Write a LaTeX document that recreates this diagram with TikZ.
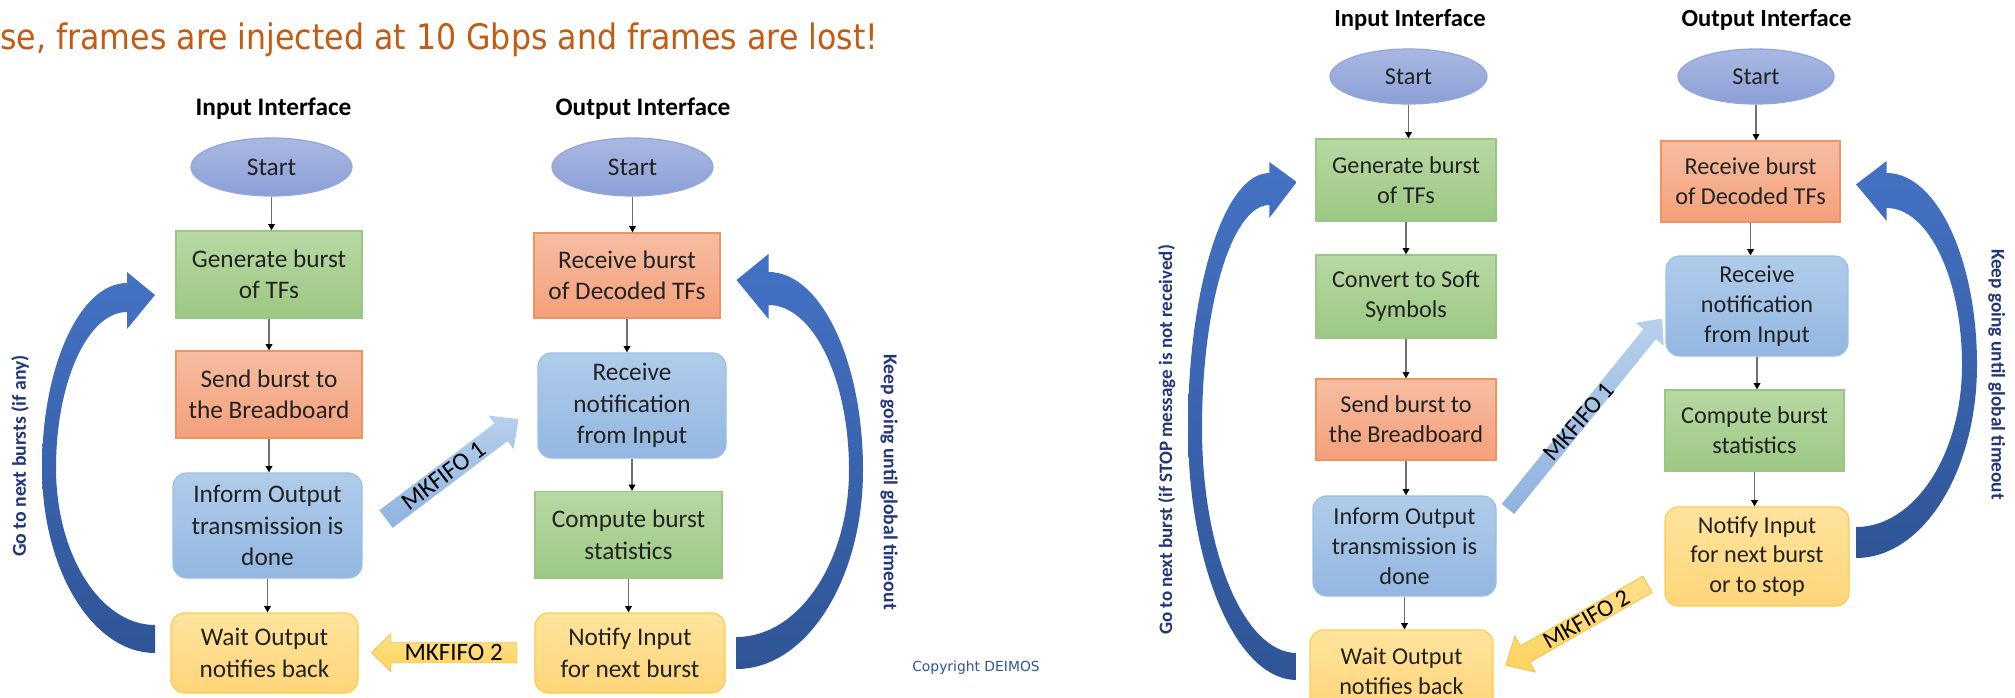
\documentclass[tikz,border=0pt]{standalone}
\usepackage{fontspec}
\setmainfont{Carlito}
\newfontfamily\titlefont[FakeStretch=0.9]{DejaVu Sans}
\newfontfamily\smallfont{DejaVu Sans}
\usetikzlibrary{arrows.meta,shapes.geometric}

\definecolor{titlecol}{HTML}{C55A11}
\definecolor{txt}{HTML}{222222}
\definecolor{navy}{HTML}{23367A}
\definecolor{copycol}{HTML}{2F5597}
\definecolor{loopTop}{HTML}{4472C4}
\definecolor{loopBot}{HTML}{2F5597}
\definecolor{grnTop}{HTML}{B7D8A3}
\definecolor{grnBot}{HTML}{9DC883}
\definecolor{grnLine}{HTML}{9CC685}
\definecolor{orgTop}{HTML}{F6BDA2}
\definecolor{orgBot}{HTML}{F4A07B}
\definecolor{orgLine}{HTML}{F1935F}
\definecolor{bluTop}{HTML}{B0CCEA}
\definecolor{bluBot}{HTML}{93B7E1}
\definecolor{bluLine}{HTML}{9DBFE6}
\definecolor{ylwTop}{HTML}{FFE49E}
\definecolor{ylwBot}{HTML}{FFD579}
\definecolor{ylwLine}{HTML}{FFCB4A}
\definecolor{ellTop}{HTML}{AAB8E2}
\definecolor{ellBot}{HTML}{8B9FD7}
\definecolor{ellLine}{HTML}{94A6DA}
\definecolor{fifoBTop}{HTML}{B7D0EC}
\definecolor{fifoBBot}{HTML}{8FB3E0}
\definecolor{fifoYTop}{HTML}{FFE08A}
\definecolor{fifoYBot}{HTML}{FFD45E}
\definecolor{fifoYLine}{HTML}{F3C242}
\definecolor{connCol}{HTML}{707070}

% block arrow: name, tail x, tail y, angle, length, shaft width, head width, head length, style
\newcommand\fifoarrow[9]{%
  \begin{scope}[shift={(#2,#3)},rotate=#4]
    \path[#9] (0,{-#6/2}) -- ({#5-#8},{-#6/2}) -- ({#5-#8},{-#7/2}) -- (#5,0)
      -- ({#5-#8},{#7/2}) -- ({#5-#8},{#6/2}) -- (0,{#6/2}) -- cycle;
    \coordinate (#1) at ({(#5-#8)/2},0);
  \end{scope}}

\tikzset{
  every node/.style={inner sep=0pt, text=txt, align=center},
  wh/.style 2 args={minimum width=#1*0.02cm, minimum height=#2*0.02cm},
  lfont/.style={font=\fontsize{14.4}{17.9}\selectfont},
  rfont/.style={font=\fontsize{13.8}{17}\selectfont},
  head/.style={font=\bfseries\fontsize{14.4}{17}\selectfont, text=black},
  startnode/.style={ellipse, top color=ellTop, bottom color=ellBot, draw=ellLine, line width=0.7pt},
  greenbox/.style={rectangle, top color=grnTop, bottom color=grnBot, draw=grnLine, line width=0.7pt},
  orangebox/.style={rectangle, top color=orgTop, bottom color=orgBot, draw=orgLine, line width=0.7pt},
  bluebox/.style={rectangle, rounded corners=0.27cm, top color=bluTop, bottom color=bluBot, draw=bluLine, line width=0.7pt},
  yellowbox/.style={rectangle, rounded corners=0.27cm, top color=ylwTop, bottom color=ylwBot, draw=ylwLine, line width=0.7pt},
  conn/.style={draw=connCol, line width=0.7pt, -{Triangle[length=3.6pt,width=3.8pt,color=black]}},
  loop/.style={top color=loopTop, bottom color=loopBot},
  fifoblue/.style={top color=fifoBTop, bottom color=fifoBBot},
  fifoyellow/.style={top color=fifoYTop, bottom color=fifoYBot, draw=fifoYLine, line width=0.5pt},
  fifolabel/.style={font=\fontsize{14.2}{16}\selectfont, text=black},
  sidelabel/.style={font=\bfseries\fontsize{11.2}{13}\selectfont, text=navy},
}

\begin{document}
\begin{tikzpicture}[x=0.02cm, y=-0.02cm]
\useasboundingbox (0,0) rectangle (2015,697);
\fill[white] (0,0) rectangle (2015,697);
\clip (0,0) rectangle (2015,697);

% heading line
\node[anchor=base west, font=\titlefont\fontsize{20}{24}\selectfont, text=titlecol] (title) at (0,49)
  {se, frames are injected at 10 Gbps and frames are lost!};

% ---------------- first flow: input side ----------------
\node[head] (lInHead) at (273.5,109) {Input Interface};
\node[startnode, wh={161}{58}, lfont] (lStartIn) at (271.5,167) {Start};
\node[greenbox, wh={186}{87}, lfont] (lGen) at (269,274.5) {Generate burst\\of TFs};
\node[orangebox, wh={186}{87}, lfont] (lSend) at (269,394.5) {Send burst to\\the Breadboard};
\node[bluebox, wh={189}{105}, lfont] (lInform) at (267.5,525.5) {Inform Output\\transmission is\\done};
\node[yellowbox, wh={187}{80}, lfont] (lWait) at (264.5,653) {Wait Output\\notifies back};

% ---------------- first flow: output side ----------------
\node[head] (lOutHead) at (643,109) {Output Interface};
\node[startnode, wh={161}{58}, lfont] (lStartOut) at (632.5,167) {Start};
\node[orangebox, wh={186}{85}, lfont] (lRecv) at (627,275.5) {Receive burst\\of Decoded TFs};
\node[bluebox, wh={188}{105}, lfont] (lNotif) at (632,405.5) {Receive\\notification\\from Input};
\node[greenbox, wh={187}{87}, lfont] (lComp) at (628.5,535) {Compute burst\\statistics};
\node[yellowbox, wh={190}{80}, lfont] (lNotify) at (630,653) {Notify Input\\for next burst};

\foreach \a/\b in {lStartIn/lGen, lGen/lSend, lSend/lInform, lInform/lWait,
                   lStartOut/lRecv, lRecv/lNotif, lNotif/lComp, lComp/lNotify}
  \draw[conn] (\a.south) -- (\a.south |- \b.north);

% loop-back arrows
\shade[loop] (155,653) .. controls (92.6,653) and (42,570.2) .. (42,468)
  .. controls (42,365.8) and (80.1,283) .. (127,283)
  -- (127,272) -- (155,295) -- (127,329) -- (127,312)
  .. controls (87.8,312) and (56,381.8) .. (56,468)
  .. controls (56,554.7) and (100.3,625) .. (155,625) -- cycle;
\shade[loop] (736.5,669) .. controls (806.4,669) and (863,579.9) .. (863,470)
  .. controls (863,360.6) and (820.7,272) .. (768.5,272)
  -- (768.5,254) -- (736.5,280) -- (768.5,319) -- (768.5,305)
  .. controls (813,305) and (849,378.9) .. (849,470)
  .. controls (849,562.2) and (798.6,637) .. (736.5,637) -- cycle;

\node[sidelabel, rotate=90] (lGoNext) at (20,456) {Go to next bursts (if any)};
\node[sidelabel, rotate=-90] (lKeep) at (889,482) {Keep going until global timeout};

% pipes between the two sides
\fifoarrow{lFifoA}{386}{519}{37}{166}{22}{42}{22}{fifoblue}
\node[fifolabel, rotate=37] (lFifoAText) at (lFifoA) {MKFIFO 1};
\fifoarrow{lFifoB}{516.7}{652.7}{180}{145}{20}{37.4}{19}{fifoyellow}
\node[fifolabel] (lFifoBText) at (lFifoB) {MKFIFO 2};

\node[font=\smallfont\fontsize{7.9}{9}\selectfont, text=copycol] (copy) at (976,668) {Copyright DEIMOS};

% ---------------- second flow: input side ----------------
\node[head, font=\bfseries\fontsize{14}{17}\selectfont] (rInHead) at (1410,20) {Input Interface};
\node[startnode, wh={157}{55}, rfont] (rStartIn) at (1408.5,76.5) {Start};
\node[greenbox, wh={180}{82}, rfont] (rGen) at (1406,180) {Generate burst\\of TFs};
\node[greenbox, wh={180}{83}, rfont] (rConv) at (1406,296.5) {Convert to Soft\\Symbols};
\node[orangebox, wh={180}{81}, rfont] (rSend) at (1406,419.5) {Send burst to\\the Breadboard};
\node[bluebox, wh={183}{100}, rfont] (rInform) at (1404.5,546) {Inform Output\\transmission is\\done};
\node[yellowbox, wh={183}{82}, rfont] (rWait) at (1401.5,671) {Wait Output\\notifies back};

% ---------------- second flow: output side ----------------
\node[head, font=\bfseries\fontsize{14}{17}\selectfont] (rOutHead) at (1766.5,20) {Output Interface};
\node[startnode, wh={156}{55}, rfont] (rStartOut) at (1756,76.5) {Start};
\node[orangebox, wh={179}{81}, rfont] (rRecv) at (1750.5,181.5) {Receive burst\\of Decoded TFs};
\node[bluebox, wh={182}{100}, rfont] (rNotif) at (1757,306) {Receive\\notification\\from Input};
\node[greenbox, wh={179}{81}, rfont] (rComp) at (1754.5,430.5) {Compute burst\\statistics};
\node[yellowbox, wh={184}{99}, rfont] (rNotify) at (1757,556.5) {Notify Input\\for next burst\\or to stop};

\foreach \a/\b in {rStartIn/rGen, rGen/rConv, rConv/rSend, rSend/rInform, rInform/rWait,
                   rStartOut/rRecv, rRecv/rNotif, rNotif/rComp, rComp/rNotify}
  \draw[conn] (\a.south) -- (\a.south |- \b.north);

\shade[loop] (1296.7,680) .. controls (1236.7,680) and (1188,567.2) .. (1188,428)
  .. controls (1188,287.2) and (1224.4,173) .. (1269.3,173)
  -- (1269.3,162) -- (1296.7,182) -- (1269.3,218) -- (1269.3,205)
  .. controls (1232.1,205) and (1202,304.8) .. (1202,428)
  .. controls (1202,552.3) and (1244.4,653) .. (1296.7,653) -- cycle;
\shade[loop] (1856,558) .. controls (1922.8,558) and (1977,471.6) .. (1977,365)
  .. controls (1977,259) and (1936.6,173) .. (1886.7,173)
  -- (1886.7,161) -- (1856,184.4) -- (1886.7,221) -- (1886.7,208)
  .. controls (1928.3,208) and (1962,278.3) .. (1962,365)
  .. controls (1962,454.5) and (1914.5,527) .. (1856,527) -- cycle;

\node[sidelabel, font=\bfseries\fontsize{10.8}{13}\selectfont, rotate=90] (rGoNext) at (1166.7,440)
  {Go to next burst (if STOP message is not received)};
\node[sidelabel, font=\bfseries\fontsize{11}{13}\selectfont, rotate=-90] (rKeep) at (1996.7,374.5)
  {Keep going until global timeout};

\fifoarrow{rFifoA}{1508}{509}{51}{245}{16}{36}{20}{fifoblue}
\node[fifolabel, font=\fontsize{13.8}{16}\selectfont, rotate=49] (rFifoAText) at (rFifoA) {MKFIFO 1};
\fifoarrow{rFifoB}{1647.5}{584.3}{209.7}{163}{18.7}{41}{22}{fifoyellow}
\node[fifolabel, font=\fontsize{13.8}{16}\selectfont, rotate=29.7] (rFifoBText) at (rFifoB) {MKFIFO 2};
\end{tikzpicture}
\end{document}
